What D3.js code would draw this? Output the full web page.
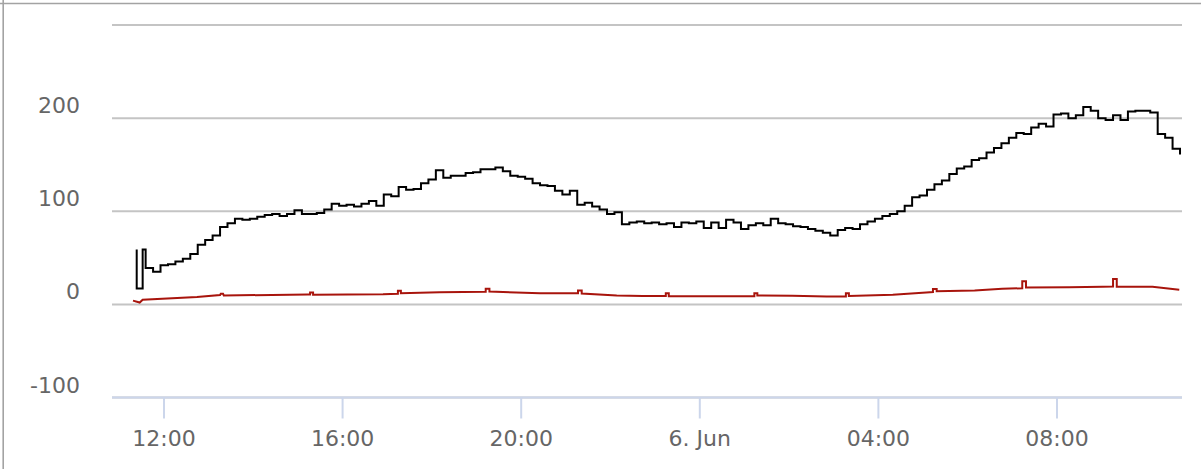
<!DOCTYPE html>
<html>
<head>
<meta charset="utf-8">
<script src="https://cdn.jsdelivr.net/npm/d3@7"></script>
<style>
  html, body { margin: 0; padding: 0; background: #fff; }
  svg { display: block; }
</style>
</head>
<body>
<svg id="chart" width="1201" height="469"></svg>
<script>
// ---- data ----
// Black series: a short lead-in, then one reading every 10 minutes.
const blackLeadTimes = ["2023-06-05T11:24", "2023-06-05T11:24", "2023-06-05T11:32"];
const blackLeadValues = [59, 17, 59];
const blackStart = "2023-06-05T11:36";
const blackStepMinutes = 10;
const blackValues = [
  39, 35, 42, 43, 46, 49, 54, 64, 69, 74,
  83, 87, 92, 91, 92, 94, 96, 97, 95, 97,
  101, 97, 97, 98, 102, 108, 106, 107, 105, 108,
  111, 106, 118, 116, 126, 123, 124, 130, 134, 144,
  136, 138, 138, 141, 142, 145, 145, 147, 143, 138,
  137, 135, 130, 128, 127, 122, 118, 122, 107, 109,
  105, 102, 97, 99, 86, 88, 89, 87, 88, 86,
  87, 83, 88, 87, 89, 82, 88, 82, 91, 88,
  81, 85, 87, 85, 92, 87, 86, 84, 83, 81,
  79, 77, 74, 80, 82, 81, 86, 89, 92, 95,
  97, 100, 106, 115, 117, 123, 129, 133, 140, 146,
  148, 155, 157, 163, 168, 173, 179, 184, 183, 190,
  194, 191, 204, 205, 200, 203, 212, 208, 200, 198,
  203, 198, 207, 208, 208, 206, 183, 179, 167, 161
];

// Red series: slow drift with short pulses roughly every two hours.
const redTimes = [
  "2023-06-05T11:19", "2023-06-05T11:28", "2023-06-05T11:32", "2023-06-05T12:45",
  "2023-06-05T13:16", "2023-06-05T13:17", "2023-06-05T13:20", "2023-06-05T13:21",
  "2023-06-05T15:14", "2023-06-05T15:17", "2023-06-05T15:17", "2023-06-05T15:21", "2023-06-05T15:21",
  "2023-06-05T16:55", "2023-06-05T17:15", "2023-06-05T17:15", "2023-06-05T17:19", "2023-06-05T17:19",
  "2023-06-05T18:11", "2023-06-05T19:13", "2023-06-05T19:13", "2023-06-05T19:18", "2023-06-05T19:18",
  "2023-06-05T20:26", "2023-06-05T21:17", "2023-06-05T21:17", "2023-06-05T21:22", "2023-06-05T21:22",
  "2023-06-05T22:09", "2023-06-05T22:44", "2023-06-05T23:15", "2023-06-05T23:15", "2023-06-05T23:19", "2023-06-05T23:19",
  "2023-06-06T01:08", "2023-06-06T01:14", "2023-06-06T01:14", "2023-06-06T01:18", "2023-06-06T01:18",
  "2023-06-06T02:05", "2023-06-06T02:51", "2023-06-06T03:17", "2023-06-06T03:17", "2023-06-06T03:21", "2023-06-06T03:21",
  "2023-06-06T04:20", "2023-06-06T05:05", "2023-06-06T05:14", "2023-06-06T05:14", "2023-06-06T05:19", "2023-06-06T05:19",
  "2023-06-06T06:10", "2023-06-06T06:47", "2023-06-06T07:14", "2023-06-06T07:14", "2023-06-06T07:19", "2023-06-06T07:19",
  "2023-06-06T08:17", "2023-06-06T09:02", "2023-06-06T09:16", "2023-06-06T09:16", "2023-06-06T09:21", "2023-06-06T09:21",
  "2023-06-06T10:09", "2023-06-06T10:45"
];
const redValues = [
  4, 2, 5, 8,
  10, 11.5, 11.5, 9.6,
  10.5, 10.5, 12.8, 12.8, 10.4,
  11, 11.5, 14.6, 14.6, 12,
  13, 13.5, 16.8, 16.8, 13.8,
  12, 12, 15, 15, 11.6,
  9.5, 9, 9, 12, 12, 8.8,
  8.8, 8.8, 12, 12, 9.5,
  9.2, 8.5, 8.5, 12, 12, 9,
  10.3, 12.8, 13.2, 16.4, 16.4, 14,
  15, 16.8, 17.3, 24.7, 24.7, 18.2,
  18.5, 19, 19.2, 27.2, 27.2, 19,
  18.8, 15.7
];

// Axis settings
const yTicks = [-100, 0, 100, 200, 300];
const yLabelTicks = [-100, 0, 100, 200];
const xTickTimes = [
  "2023-06-05T12:00", "2023-06-05T16:00", "2023-06-05T20:00",
  "2023-06-06T00:00", "2023-06-06T04:00", "2023-06-06T08:00"
];
const xDomain = ["2023-06-05T10:50:48", "2023-06-06T10:48:40"];

// ---- drawing ----
const parse = d3.timeParse("%Y-%m-%dT%H:%M");
const parseSec = d3.timeParse("%Y-%m-%dT%H:%M:%S");

const svg = d3.select("#chart");
const W = 1201, H = 469;
const plotLeft = 112, plotRight = 1182, plotTop = 25, plotBottom = 397.5;

const x = d3.scaleTime()
  .domain(xDomain.map(parseSec))
  .range([plotLeft, plotRight]);
const y = d3.scaleLinear()
  .domain([-100, 300])
  .range([plotBottom, plotTop]);

svg.append("rect").attr("width", W).attr("height", H).attr("fill", "#fff");

// outer frame edges
svg.append("line").attr("x1", 0).attr("x2", W).attr("y1", 3.5).attr("y2", 3.5)
  .attr("stroke", "#a3a3a3").attr("stroke-width", 1.6);
svg.append("line").attr("x1", 3.2).attr("x2", 3.2).attr("y1", 0).attr("y2", H)
  .attr("stroke", "#a3a3a3").attr("stroke-width", 1.6);

// horizontal grid
svg.append("g").selectAll("line").data(yTicks).join("line")
  .attr("x1", plotLeft).attr("x2", plotRight)
  .attr("y1", d => y(d)).attr("y2", d => y(d))
  .attr("stroke", "#c4c4c4").attr("stroke-width", 2);

// y labels
svg.append("g").selectAll("text").data(yLabelTicks).join("text")
  .attr("x", 80).attr("y", d => y(d) - 5)
  .attr("text-anchor", "end")
  .attr("font-family", "DejaVu Sans, sans-serif")
  .attr("font-size", 22)
  .attr("fill", "#666")
  .text(d => d < 0 ? "-" + Math.abs(d) : String(d));

// x axis
const fmtTime = d3.timeFormat("%H:%M");
const fmtDay = d3.timeFormat("%-d. %b");
const xAxis = d3.axisBottom(x)
  .tickValues(xTickTimes.map(parse))
  .tickSize(21)
  .tickPadding(8)
  .tickFormat(d => (d.getHours() === 0 && d.getMinutes() === 0) ? fmtDay(d) : fmtTime(d));

const gx = svg.append("g").attr("transform", `translate(0,${plotBottom})`).call(xAxis);
gx.select(".domain").attr("stroke", "#ccd6eb").attr("stroke-width", 2.2)
  .attr("d", `M${plotLeft},0H${plotRight}`);
gx.selectAll(".tick line").attr("stroke", "#ccd6eb").attr("stroke-width", 2);
gx.selectAll(".tick text")
  .attr("font-family", "DejaVu Sans, sans-serif")
  .attr("font-size", 22)
  .attr("fill", "#666")
  .attr("dy", "0")
  .attr("y", 48);

// series
const blackData = blackLeadTimes.map((t, i) => ({ t: parse(t), v: blackLeadValues[i] }));
const t0 = parse(blackStart);
blackValues.forEach((v, i) => {
  blackData.push({ t: d3.timeMinute.offset(t0, i * blackStepMinutes), v });
});
const redData = redTimes.map((t, i) => ({ t: parse(t), v: redValues[i] }));

const stepLine = d3.line().x(d => x(d.t)).y(d => y(d.v)).curve(d3.curveStepAfter);
const plainLine = d3.line().x(d => x(d.t)).y(d => y(d.v));

svg.append("path").datum(redData)
  .attr("d", plainLine)
  .attr("fill", "none")
  .attr("stroke", "#a8140c")
  .attr("stroke-width", 2)
  .attr("stroke-linejoin", "miter");

svg.append("path").datum(blackData)
  .attr("d", stepLine)
  .attr("fill", "none")
  .attr("stroke", "#000")
  .attr("stroke-width", 2)
  .attr("stroke-linejoin", "miter");
</script>
</body>
</html>
